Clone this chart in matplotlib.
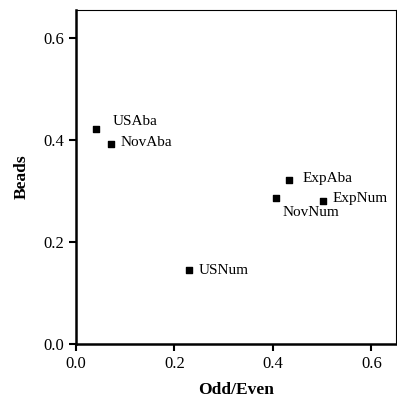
import matplotlib
matplotlib.use("Agg")
import matplotlib.pyplot as plt

labels = ["USAba", "NovAba", "USNum", "NovNum", "ExpAba", "ExpNum"]
odd_even = [0.040, 0.071, 0.230, 0.406, 0.432, 0.501]
beads = [0.421, 0.393, 0.145, 0.286, 0.321, 0.280]
offsets = {"USAba": (17, 8), "NovAba": (10, 1), "USNum": (9, 0), "NovNum": (7, -14),
           "ExpAba": (14, 2), "ExpNum": (10, 3)}
ticks = [0.0, 0.2, 0.4, 0.6]

plt.rcParams['font.family'] = ['Liberation Serif', 'DejaVu Serif']
fig = plt.figure(figsize=(3.97, 3.98), dpi=100)
ax = fig.add_axes([76/397, 54/398, 320/397, 334/398])
ax.scatter(odd_even, beads, marker='s', s=14, color='black', zorder=3)
for lab, x, y in zip(labels, odd_even, beads):
    dx, dy = offsets[lab]
    ax.annotate(lab, (x, y), xytext=(dx * 0.72, dy * 0.72), textcoords='offset points',
                fontsize=11, ha='left', va='center')
ax.set_xlim(0, 0.65)
ax.set_ylim(0, 0.655)
ax.set_xticks(ticks)
ax.set_yticks(ticks)
ax.set_xticklabels([f"{t:.1f}" for t in ticks])
ax.set_yticklabels([f"{t:.1f}" for t in ticks])
ax.tick_params(direction='out', length=5, width=1.5, labelsize=12, top=False, right=False)
for s in ['left', 'bottom']:
    ax.spines[s].set_linewidth(1.8)
for s in ['top', 'right']:
    ax.spines[s].set_linewidth(0.8)
ax.set_xlabel("Odd/Even", fontsize=12.5, fontweight='bold', labelpad=7)
ax.set_ylabel("Beads", fontsize=12.5, fontweight='bold', labelpad=10)
fig.savefig("out.png", dpi=100)
